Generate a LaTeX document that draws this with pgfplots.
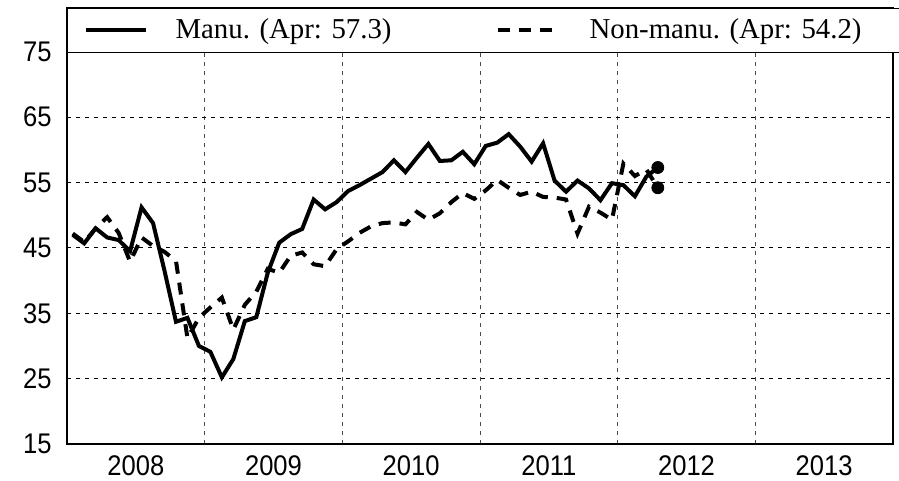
\documentclass[border=0pt]{standalone}
\usepackage{pgfplots}
\pgfplotsset{compat=1.18}
\usepackage{pgfplotstable}
\usepackage{fontspec}
\setmainfont{Liberation Serif}
\setsansfont{Liberation Sans}
\newfontfamily\tickfont[FakeStretch=0.9]{Liberation Sans}

\pgfplotstableread{
i manu non
1 47.0 47.2
2 45.7 45.9
3 48.0 48.0
4 46.6 49.7
5 46.2 47.3
6 44.5 42.9
7 51.2 46.6
8 48.8 45.3
9 41.5 44.4
10 33.7 43.0
11 34.3 31.2
12 30.0 34.3
13 29.1 35.9
14 25.2 37.4
15 28.0 32.5
16 33.8 36.3
17 34.4 38.3
18 41.2 41.8
19 45.8 41.2
20 47.1 43.8
21 47.9 44.3
22 52.4 42.5
23 50.9 42.2
24 52.0 44.8
25 53.7 46.0
26 54.6 47.3
27 55.6 48.3
28 56.6 48.8
29 58.4 48.9
30 56.6 48.6
31 58.8 50.5
32 60.9 49.3
33 58.3 50.3
34 58.4 52.0
35 59.7 53.4
36 57.8 52.5
37 60.6 53.8
38 61.1 55.4
39 62.4 54.2
40 60.5 53.1
41 58.2 53.6
42 61.0 52.8
43 55.3 52.7
44 53.6 52.4
45 55.3 47.2
46 54.1 51.3
47 52.3 50.4
48 54.9 49.3
49 54.6 57.9
50 52.9 56.0
51 55.9 57.0
52 57.3 54.2
}\pmidata

\begin{document}
\begin{tikzpicture}
\begin{axis}[
  name=ax,
  scale only axis,
  width=413pt, height=218pt,
  xmin=2008, xmax=2014,
  ymin=15, ymax=81.7,
  ytick={15,25,35,45,55,65,75},
  xtick={2008.5,2009.5,2010.5,2011.5,2012.5,2013.5},
  xticklabels={2008,2009,2010,2011,2012,2013},
  minor xtick={2009,2010,2011,2012,2013},
  xminorgrids=true, xmajorgrids=false, ymajorgrids=true,
  grid style={black, line width=0.5pt, dash pattern=on 2pt off 2.5pt},
  minor grid style={black!70, line width=0.5pt, dash pattern=on 2pt off 2.5pt},
  major tick length=0pt, minor tick length=0pt,
  axis line style={black, line width=0.6pt},
  /pgf/number format/assume math mode=true,
  tick label style={font=\tickfont\fontsize{14.2}{14.2}\selectfont},
  yticklabel style={inner xsep=0pt, xshift=-7.5pt},
  xticklabel style={inner ysep=0pt, yshift=-5.5pt},
  legend columns=2,
  legend image code/.code={\draw[#1] (0pt,0pt) -- (30pt,0pt);},
  legend style={at={(0,1)}, anchor=north west, draw=black, line width=0.6pt,
    fill=white, inner xsep=8pt, inner ysep=5.2pt,
    nodes={inner sep=0pt}, column sep=0pt, row sep=0pt,
    font=\fontsize{14.4}{14.4}\selectfont},
]
\addplot[black, line width=2pt] table[x expr={2008+(\thisrow{i}-0.5)/12}, y=manu] {\pmidata};
\addlegendentry{\hspace{14pt}\makebox[160pt][l]{Manu. (Apr: 57.3)}}
\addplot[black, line width=2pt, dash pattern=on 6pt off 4.5pt] table[x expr={2008+(\thisrow{i}-0.5)/12}, y=non] {\pmidata};
\addlegendentry{\hspace{15pt}\makebox[147.5pt][l]{Non-manu. (Apr: 54.2)}}
\addplot[only marks, mark=*, mark size=3pt, black, forget plot] coordinates {(2012.2917,57.3) (2012.2917,54.2)};
\end{axis}
\pgfresetboundingbox
\path ([xshift=-33.5pt,yshift=-18pt]ax.south west) rectangle ([xshift=3pt,yshift=4pt]ax.north east);
\end{tikzpicture}
\end{document}
